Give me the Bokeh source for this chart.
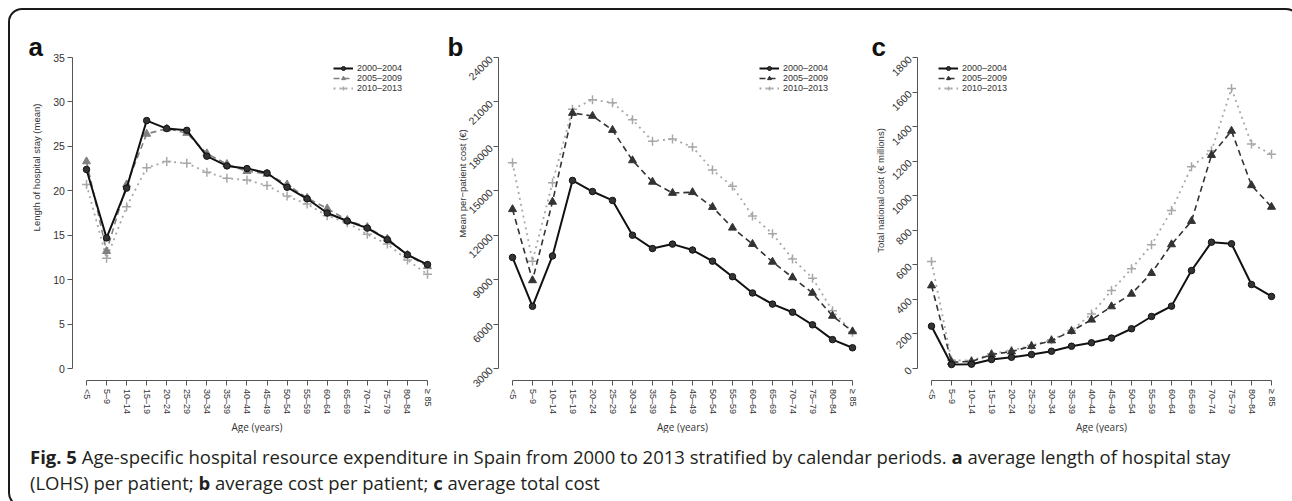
import math
from bokeh.plotting import figure
from bokeh.layouts import row, column
from bokeh.models import Div, Label, Legend, LegendItem, FixedTicker, Range1d
from bokeh.embed import file_html
from bokeh.resources import INLINE

ages = ["<5", "5–9", "10–14", "15–19", "20–24", "25–29", "30–34", "35–39", "40–44",
        "45–49", "50–54", "55–59", "60–64", "65–69", "70–74", "75–79", "80–84", "≥ 85"]
periods = ["2000–2004", "2005–2009", "2010–2013"]

# a: length of hospital stay (mean)
los_2000 = [22.4, 14.7, 20.3, 27.9, 27.0, 26.8, 23.9, 22.8, 22.5, 22.0, 20.4, 19.1, 17.5, 16.6, 15.8, 14.5, 12.8, 11.7]
los_2005 = [23.3, 13.2, 20.7, 26.4, 27.0, 26.5, 24.2, 23.0, 22.2, 21.9, 20.7, 19.2, 18.0, 16.7, 15.9, 14.6, 12.8, 11.5]
los_2010 = [20.7, 12.4, 18.2, 22.6, 23.3, 23.1, 22.1, 21.4, 21.2, 20.6, 19.4, 18.5, 17.2, 16.4, 15.1, 14.0, 12.2, 10.6]

# b: mean per-patient cost (EUR)
cost_2000 = [10500, 7200, 10600, 15700, 14950, 14350, 12000, 11100, 11400, 11000, 10250, 9200, 8100, 7350, 6800, 5950, 4950, 4400]
cost_2005 = [13750, 8950, 14250, 20250, 20050, 19100, 17050, 15600, 14850, 14900, 13900, 12500, 11400, 10200, 9150, 8100, 6550, 5500]
cost_2010 = [16900, 10250, 15550, 20500, 21150, 20950, 19800, 18350, 18500, 17950, 16400, 15300, 13300, 12100, 10400, 9100, 6900, 5450]

# c: total national cost (EUR millions)
total_2000 = [245, 23, 25, 52, 65, 81, 100, 129, 149, 176, 230, 301, 361, 567, 731, 722, 486, 417]
total_2005 = [480, 37, 40, 81, 98, 129, 162, 216, 282, 359, 432, 552, 718, 853, 1235, 1375, 1060, 935]
total_2010 = [620, 48, 46, 85, 104, 133, 166, 220, 316, 451, 577, 716, 915, 1167, 1260, 1620, 1300, 1240]

yticks_a = [0, 5, 10, 15, 20, 25, 30, 35]
yticks_b = [3000, 6000, 9000, 12000, 15000, 18000, 21000, 24000]
yticks_c = [0, 200, 400, 600, 800, 1000, 1200, 1400, 1600, 1800]

FONT = "Liberation Sans"
TXT = "#333333"
AX = "#555555"

# page layout (absolute pixels in the window)
FIG_TOP = 10
FIG_H = 423
FIG_BOT = FIG_TOP + FIG_H
Y_TOP_TICK = 57
Y_BOT_TICK = 368


def make_panel(series, yticks, c2, left, width, x_first, x_last, rot,
               letter, letter_x, ylab, ylab_xy, leg_x):
    n = len(ages)
    xs = list(range(1, n + 1))
    lo, hi = yticks[0], yticks[-1]
    ux = (x_last - x_first) / (n - 1)
    x0 = 1 - (x_first - left) / ux
    uy = (Y_BOT_TICK - Y_TOP_TICK) / (hi - lo)
    y1 = hi + (Y_TOP_TICK - FIG_TOP) / uy

    def dx(px):  # absolute window x -> data x
        return x0 + (px - left) / ux

    def dy(py):  # absolute window y -> data y
        return y1 - (py - FIG_TOP) / uy

    p = figure(width=width, height=FIG_H,
               x_range=Range1d(x0, x0 + width / ux), y_range=Range1d(y1 - FIG_H / uy, y1),
               output_backend="svg", toolbar_location=None,
               min_border=0, min_border_left=0, min_border_right=0,
               min_border_top=0, min_border_bottom=0)
    p.title.visible = False
    p.xgrid.visible = False
    p.ygrid.visible = False
    p.outline_line_color = None
    p.background_fill_color = None
    p.border_fill_color = None

    for ax in (p.xaxis[0], p.yaxis[0]):
        ax.axis_line_color = AX
        ax.major_tick_line_color = AX
        ax.minor_tick_line_color = None
        ax.major_tick_out = 5
        ax.major_tick_in = 0
        ax.major_label_text_color = TXT
        ax.major_label_text_font = FONT
        ax.major_label_standoff = 3

    p.xaxis.ticker = FixedTicker(ticks=xs)
    p.xaxis.major_label_overrides = {x: a for x, a in zip(xs, ages)}
    p.xaxis.major_label_orientation = "vertical"
    p.xaxis.major_label_text_font_size = "9px"
    p.xaxis.bounds = (1, n)
    p.xaxis.fixed_location = lo - 0.04 * (hi - lo)

    p.yaxis.ticker = FixedTicker(ticks=yticks)
    p.yaxis.bounds = (lo, hi)
    p.yaxis.major_label_text_font_size = "10.5px"
    p.yaxis.fixed_location = 1 - 0.04 * (n - 1)
    if rot:
        p.yaxis.major_label_orientation = math.pi / 4

    styles = [
        dict(color="#111111", dash="solid", width=2.0, marker="circle", size=6.5,
             fill="#333333", mline="#111111"),
        dict(color=c2, dash="6 4", width=1.6, marker="triangle", size=8,
             fill=c2, mline=c2),
        dict(color="#a8a8a8", dash="2 4", width=1.8, marker="cross", size=9,
             fill="#a8a8a8", mline="#a8a8a8"),
    ]
    items = []
    rends = []
    for vals, st, lab in zip(series, styles, periods):
        lr = p.line(xs, vals, line_color=st["color"], line_width=st["width"], line_dash=st["dash"])
        sr = p.scatter(xs, vals, marker=st["marker"], size=st["size"], fill_color=st["fill"],
                       line_color=st["mline"], line_width=1.5 if st["marker"] == "cross" else 1)
        items.append(LegendItem(label=lab, renderers=[lr, sr]))
        rends.append((lr, sr))
    p.renderers = [r for pair in reversed(rends) for r in pair]
    leg = Legend(items=items, location=(leg_x - left, FIG_BOT - 93), border_line_color=None,
                 background_fill_alpha=0, label_text_font_size="9px", label_text_font=FONT,
                 label_text_color=TXT, glyph_width=20, glyph_height=10, label_height=10,
                 spacing=0, padding=0, margin=0, label_standoff=4)
    p.add_layout(leg)

    p.add_layout(Label(x=dx(letter_x), y=dy(46),
                       text=letter, text_font=FONT, text_font_style="bold", text_font_size="26px",
                       text_color="#111111", text_baseline="alphabetic", text_align="left"))
    p.add_layout(Label(x=dx(ylab_xy[0]), y=dy(ylab_xy[1]),
                       angle=math.pi / 2, text=ylab, text_font=FONT, text_font_size="9.5px",
                       text_color=TXT, text_align="center", text_baseline="middle"))
    p.add_layout(Label(x=(n + 1) / 2, y=dy(426),
                       text="Age (years)", text_font="Open Sans", text_font_size="10px",
                       text_color=TXT, text_align="center", text_baseline="middle"))
    return p


pa = make_panel([los_2000, los_2005, los_2010], yticks_a, "#808080", 10, 435, 86, 427, False,
                "a", 28, "Length of hospital stay (mean)", (36, 167), 333)
pb = make_panel([cost_2000, cost_2005, cost_2010], yticks_b, "#333333", 445, 425, 512, 852, True,
                "b", 447, "Mean per−patient cost (€)", (462, 183), 759)
pc = make_panel([total_2000, total_2005, total_2010], yticks_c, "#333333", 870, 418, 931, 1271, True,
                "c", 871, "Total national cost (€ millions)", (880, 190), 938)

caption = Div(
    text=("<div style=\"padding-left:15px; padding-top:6px; font-family:'Open Sans'; font-size:18.5px; "
          "line-height:26px; color:#231f20; white-space:nowrap\">"
          "<b>Fig. 5</b> Age-specific hospital resource expenditure in Spain from 2000 to 2013 "
          "stratified by calendar periods. <b>a</b> average length of hospital stay<br>"
          "(LOHS) per patient; <b>b</b> average cost per patient; <b>c</b> average total cost</div>"),
    width=1278, height=62)

layout = column(row(pa, pb, pc), caption, margin=(8, 0, 0, 8),
                styles={"border": "2px solid #1a1a1a", "border-radius": "14px"})

open("out.html", "w").write(file_html(layout, INLINE))
